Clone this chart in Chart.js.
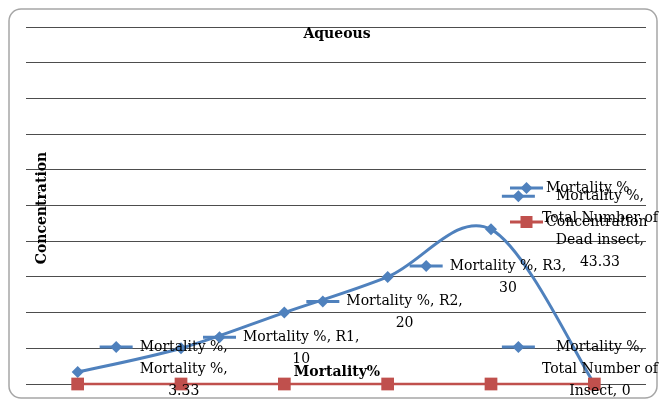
<!DOCTYPE html>
<html><head><meta charset="utf-8">
<script src="https://cdn.jsdelivr.net/npm/chart.js@4"></script>
<style>html,body{margin:0;padding:0;background:#fff}#wrap{width:660px;height:402px;position:relative}</style>
</head><body><div id="wrap"><canvas id="c" width="660" height="402"></canvas></div>
<script>
const chartTitle = "Aqueous";
const xAxisTitle = "Mortality%";
const yAxisTitle = "Concentration";
const categories = ["Mortality %", "R1", "R2", "R3", "Total Number of Dead insect", "Total Number of Insect"];
const seriesNames = ["Mortality %", "Concentration"];
const mortalityValues = [3.33, 10, 20, 30, 43.33, 0];
const concentrationValues = [0, 0, 0, 0, 0, 0];
const yMin = 0, yMax = 100, yStep = 10;

const BLUE = '#4F81BD', RED = '#C0504D';
const FONT = '"DejaVu Serif", serif';

function drawKey(ctx, x1, x2, y, color, style) {
  ctx.save();
  ctx.strokeStyle = color; ctx.fillStyle = color; ctx.lineWidth = 3;
  ctx.beginPath(); ctx.moveTo(x1, y); ctx.lineTo(x2, y); ctx.stroke();
  const cx = (x1 + x2) / 2;
  ctx.beginPath();
  if (style === 'rectRot') {
    ctx.moveTo(cx, y - 6); ctx.lineTo(cx + 6, y); ctx.lineTo(cx, y + 6); ctx.lineTo(cx - 6, y); ctx.closePath();
  } else {
    ctx.rect(cx - 6, y - 6, 12, 12);
  }
  ctx.fill();
  ctx.restore();
}

function wrap(ctx, text, maxW) {
  const words = text.split(' ');
  const lines = []; let cur = '';
  for (const w of words) {
    const t = cur ? cur + ' ' + w : w;
    if (cur && ctx.measureText(t).width > maxW) { lines.push(cur); cur = w; }
    else cur = t;
  }
  if (cur) lines.push(cur);
  return lines;
}

// Excel-like smoothed line: uniform Catmull-Rom through the points placed by the library's scales
const smoothPlugin = {
  id: 'excelSmooth',
  beforeDatasetsDraw(chart) {
    const meta = chart.getDatasetMeta(0);
    const ds = chart.data.datasets[0];
    const pts = meta.data;
    const n = pts.length;
    if (n < 2) return;
    const ctx = chart.ctx;
    ctx.save();
    ctx.strokeStyle = ds.borderColor; ctx.lineWidth = 3;
    ctx.lineJoin = 'round'; ctx.lineCap = 'round';
    ctx.beginPath();
    ctx.moveTo(pts[0].x, pts[0].y);
    for (let i = 0; i < n - 1; i++) {
      const p0 = pts[Math.max(0, i - 1)], p1 = pts[i], p2 = pts[i + 1], p3 = pts[Math.min(n - 1, i + 2)];
      const c1x = p1.x + (p2.x - p0.x) / 6, c1y = p1.y + (p2.y - p0.y) / 6;
      const c2x = p2.x - (p3.x - p1.x) / 6, c2y = p2.y - (p3.y - p1.y) / 6;
      ctx.bezierCurveTo(c1x, c1y, c2x, c2y, p2.x, p2.y);
    }
    ctx.stroke();
    ctx.restore();
  }
};

const decorPlugin = {
  id: 'decor',
  beforeDraw(chart) {
    const ctx = chart.ctx;
    ctx.save();
    ctx.fillStyle = '#fff'; ctx.fillRect(0, 0, chart.width, chart.height);
    ctx.strokeStyle = '#a6a6a6'; ctx.lineWidth = 1.5;
    ctx.beginPath(); ctx.roundRect(9, 9, 648, 389, 12); ctx.stroke();
    ctx.restore();
  },
  afterDatasetsDraw(chart) {
    const ctx = chart.ctx;
    const ca = chart.chartArea;
    ctx.save();
    ctx.fillStyle = '#000';
    ctx.font = 'bold 14px ' + FONT;
    ctx.textAlign = 'center'; ctx.textBaseline = 'middle';
    ctx.fillText(chartTitle, (ca.left + ca.right) / 2 + 1, 34);
    ctx.fillText(xAxisTitle, (ca.left + ca.right) / 2 + 1, 372);
    ctx.save();
    ctx.translate(42, 208); ctx.rotate(-Math.PI / 2);
    ctx.fillText(yAxisTitle, 0, 0);
    ctx.restore();

    ctx.font = '14px ' + FONT;
    const meta = chart.getDatasetMeta(0);
    const ds = chart.data.datasets[0];
    const lh = 22;
    meta.data.forEach((pt, i) => {
      const label = ds.label + ', ' + chart.data.labels[i] + ', ' + ds.data[i];
      const lines = wrap(ctx, label, 122);
      const tw = Math.max(...lines.map(l => ctx.measureText(l).width));
      const w = 40 + tw, h = lines.length * lh;
      let left = pt.x + 22;
      if (left + w > 658) left = 658 - w;
      let top = pt.y - h / 2;
      if (top + h > 402) top = 402 - h;
      drawKey(ctx, left, left + 33, top + lh / 2, BLUE, 'rectRot');
      ctx.fillStyle = '#000';
      ctx.textAlign = 'center'; ctx.textBaseline = 'middle';
      lines.forEach((l, k) => ctx.fillText(l, left + 40 + tw / 2, top + lh / 2 + k * lh));
    });

    const styles = ['rectRot', 'rect'];
    chart.data.datasets.forEach((d, i) => {
      const y = 188 + i * 34;
      drawKey(ctx, 510, 543, y, d.borderColor, styles[i]);
      ctx.fillStyle = '#000';
      ctx.textAlign = 'left'; ctx.textBaseline = 'middle';
      ctx.fillText(d.label, 546, y);
    });
    ctx.restore();
  }
};

new Chart(document.getElementById('c'), {
  type: 'line',
  data: {
    labels: categories,
    datasets: [
      { label: seriesNames[0], data: mortalityValues, borderColor: BLUE, backgroundColor: BLUE,
        borderWidth: 3, showLine: false, pointStyle: 'rectRot', pointRadius: 6, pointBorderWidth: 0, order: 2, clip: false },
      { label: seriesNames[1], data: concentrationValues, borderColor: RED, backgroundColor: RED,
        borderWidth: 2.5, pointStyle: 'rect', pointRadius: 9, pointBorderWidth: 0, tension: 0, order: 1, clip: false }
    ]
  },
  options: {
    responsive: false, animation: false, devicePixelRatio: 1,
    layout: { padding: { left: 26, right: 14, top: 27, bottom: 18 } },
    plugins: { legend: { display: false }, title: { display: false }, tooltip: { enabled: false } },
    scales: {
      x: { type: 'category', offset: true, grid: { display: false }, border: { display: false },
           ticks: { display: false }, afterFit(a) { a.height = 0; } },
      y: { min: yMin, max: yMax, ticks: { display: false, stepSize: yStep },
           grid: { color: '#4d4d4d', lineWidth: 1, drawTicks: false }, border: { display: false },
           afterFit(a) { a.width = 0; } }
    }
  },
  plugins: [smoothPlugin, decorPlugin]
});
</script></body></html>
